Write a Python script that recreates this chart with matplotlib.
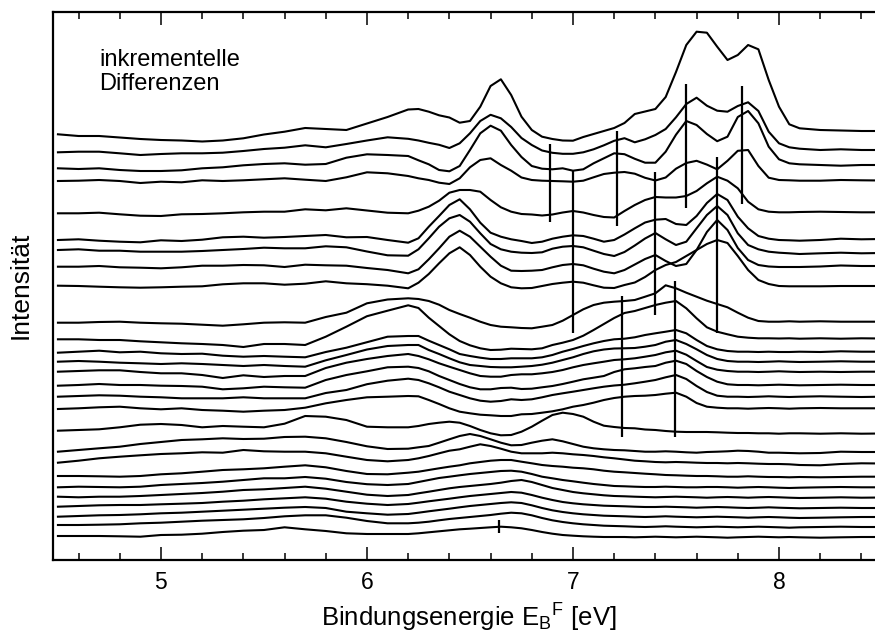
import matplotlib
matplotlib.use("Agg")
import matplotlib.pyplot as plt
from matplotlib.ticker import MultipleLocator

plt.rcParams['font.family'] = ['Liberation Sans', 'DejaVu Sans']
plt.rcParams['mathtext.fontset'] = 'custom'
plt.rcParams['mathtext.rm'] = 'Liberation Sans'
plt.rcParams['mathtext.it'] = 'Liberation Sans:italic'

# binding energy grid (eV), finer where the peaks are
energy = [4.5, 4.6, 4.7, 4.8, 4.9, 5.0, 5.1, 5.2, 5.3, 5.4, 5.5, 5.6, 5.7, 5.8, 5.9,
          6.0, 6.1, 6.2, 6.25, 6.3, 6.35, 6.4, 6.45, 6.5, 6.55, 6.6, 6.65, 6.7, 6.75,
          6.8, 6.85, 6.9, 6.95, 7.0, 7.05, 7.1, 7.15, 7.2, 7.25, 7.3, 7.35, 7.4, 7.45,
          7.5, 7.55, 7.6, 7.65, 7.7, 7.75, 7.8, 7.85, 7.9, 7.95, 8.0, 8.05, 8.1, 8.2,
          8.3, 8.4, 8.5]

# incremental difference spectra, already offset, top trace first (arb. units)
spectra = [
    [425.7, 424, 424, 422.5, 421, 420, 419.5, 418.5, 419.5, 421.7, 425.5, 428.3, 432, 431, 430, 436.5, 443, 450.5, 451, 448.3, 444.7, 442.5, 437.3, 439, 453.3, 474, 480.7, 465, 443.3, 430, 423.3, 421, 419.5, 419.3, 423, 426, 429, 432, 437, 446, 448.5, 451, 463, 488, 515, 528.3, 527.3, 513.3, 500, 505, 515, 510.7, 480, 453.3, 435.7, 431.7, 430, 429.5, 429, 429],
    [407.7, 408.3, 408.3, 406.7, 405, 406, 406.7, 406.7, 407.3, 409, 411, 412.3, 414.7, 412.7, 416, 419.5, 422.7, 421.2, 419.5, 417.2, 415.2, 412, 416.7, 426.7, 439, 445.2, 441.7, 433, 422, 415, 409.5, 407.2, 406.2, 406.2, 407.7, 410.7, 414.7, 419.2, 421.8, 417.7, 420.7, 425, 431, 442.7, 456, 462.3, 454.3, 449.3, 448.3, 454, 457.7, 449, 428.3, 416.7, 412.7, 411.3, 410, 410.7, 410, 410],
    [391.7, 391, 391.7, 390, 389, 389, 389.7, 391.7, 392.7, 394.7, 396, 396.7, 395.3, 396, 402.3, 405.7, 405, 404, 399.7, 395.7, 390, 388.7, 394, 410, 426.7, 434.3, 429.3, 415, 403, 394, 391.3, 390.7, 391.7, 389.3, 390.7, 396.7, 401.7, 406.7, 405.8, 401.2, 397.3, 397.3, 408.3, 425.3, 439, 435, 426, 418.8, 423.3, 443, 449, 436.7, 413.3, 400.7, 396.7, 395.7, 395, 394.3, 395, 395],
    [379, 379.3, 380, 379, 377, 378.3, 377.7, 379.7, 379, 379.7, 380.7, 381.7, 380.3, 379, 382.7, 387.7, 386.7, 384, 381.7, 380, 377.3, 376, 381.7, 392.7, 400, 401.7, 395, 389.3, 382.5, 380, 379.3, 379, 378.7, 378.3, 379.3, 382.7, 386, 387.3, 388, 386.3, 382.2, 379.5, 382.5, 391.3, 397, 399.2, 395.4, 390.7, 399.2, 409.2, 410, 394, 382.3, 380, 379.7, 379.3, 379.3, 380, 379.7, 379.5],
    [346.7, 346.7, 347.3, 345.7, 344.3, 344, 345.7, 346, 346.7, 347.7, 348.3, 348.3, 350.7, 349.7, 351.7, 349.5, 347.3, 346.7, 349.3, 353.3, 359.3, 367.3, 370, 370, 368.3, 360, 352.7, 348.3, 346, 345.5, 344.5, 345.5, 347.5, 349, 347.5, 345, 343, 342.5, 349, 355, 360, 363, 362.5, 362.5, 364, 369, 376.7, 383.3, 379.3, 371.7, 358.3, 350.7, 348.3, 347.7, 347.7, 348, 348.3, 348, 347.7, 347.7],
    [320, 320.7, 319.3, 318.3, 317.7, 319.7, 319, 320.3, 322.7, 323.3, 322.3, 323, 324, 325, 322.7, 323, 320, 317.3, 321.7, 333.3, 344, 355, 360.7, 350.7, 337.3, 327.3, 323.3, 320.7, 319, 317, 318.3, 321.3, 323.3, 324.7, 324, 321.3, 318.3, 320, 325.5, 331.7, 337.5, 340.3, 341, 336, 335, 344, 357, 366, 360, 343.3, 331.7, 324, 321.3, 320, 319.7, 319.3, 320, 321.3, 320.7, 321],
    [310, 310.7, 309.3, 309.3, 308.3, 308.3, 308.3, 309, 310, 311, 312.3, 311.7, 311.7, 313.7, 312.7, 308.5, 304.7, 304.3, 310.7, 321.7, 333.3, 341.7, 345, 338.3, 326.7, 316, 310.7, 308.3, 307.3, 307, 307.7, 311.3, 313.3, 314, 312.7, 309.3, 306, 304, 308, 314.5, 321.5, 327, 320.7, 315, 318.3, 331.7, 345, 354, 345, 326.7, 315, 310.7, 308.3, 307.3, 306.7, 306, 306.7, 307.3, 306.7, 307],
    [293.3, 293.3, 294, 292.7, 292.3, 291.7, 292.7, 294.3, 294.3, 295, 294.7, 293, 295.3, 294.7, 294.3, 292, 290, 286.7, 290.7, 300.7, 311.7, 323.3, 329.3, 323.3, 313.3, 303.3, 294.3, 289.3, 289, 289.3, 290, 292.7, 295, 296, 294.7, 291.3, 288.3, 286.7, 290, 295.5, 301, 305, 299, 294, 296, 310, 328, 340, 330, 312, 300, 295, 293.5, 293, 293, 293, 293.5, 294.5, 294, 294],
    [274.3, 274, 273.3, 272.7, 272.3, 272.7, 273.3, 273.7, 275.7, 276.7, 276.7, 275.3, 276.3, 278.7, 276.7, 275.8, 274.3, 271.7, 277.3, 286, 296.7, 306.7, 312.7, 305, 293.3, 283.3, 276.7, 272.7, 271.7, 272, 274, 276, 277.3, 278.3, 277.3, 274.7, 272.3, 272, 275, 277.5, 283, 290, 295, 298, 304, 310, 316, 320, 317, 304, 290, 280, 276, 274, 273.7, 273.7, 273.7, 274, 274, 274],
    [237.3, 237.3, 238, 238.3, 237.3, 236.7, 236.3, 235.3, 234.3, 235.7, 237.3, 237.7, 237.3, 243, 247.3, 256.7, 260.5, 261.7, 261, 259, 255.3, 250, 246, 242.3, 238.3, 235, 233.3, 232.7, 232, 231.7, 233.3, 235, 239.3, 245, 250.7, 255, 257.3, 258.3, 259, 260, 263.3, 266.7, 274.7, 271.7, 267.3, 263.3, 259.3, 256, 252.7, 247.3, 242.3, 239, 238.3, 238.3, 238.7, 238.3, 238.7, 238.3, 238.3, 238.3],
    [220.7, 220.7, 220, 220, 218.7, 217.7, 216.7, 216, 215, 213, 216, 216, 215, 223.3, 233.3, 243.8, 249.3, 254.7, 252, 242.3, 234, 225.7, 219, 214.7, 211.7, 210, 210.3, 211.3, 211, 210.7, 211.7, 215, 217.3, 220, 224.3, 230, 236, 242, 247, 249, 252, 255, 257.3, 259, 251.7, 241.7, 232.7, 228.3, 225.7, 223.3, 222.3, 221.7, 221.7, 221.5, 221.7, 221.3, 221.7, 221.3, 221.7, 221.5],
    [207.3, 208.3, 209.3, 207.7, 208.3, 206.7, 206, 206.3, 204.3, 203.3, 204, 203.3, 202.7, 208, 212.3, 217.8, 223.3, 224, 224, 219.3, 215, 210.7, 206, 204, 202.3, 201, 201, 201.7, 201.7, 201.7, 202.7, 205, 208.3, 211, 214, 216.7, 219, 220.7, 221.3, 222.7, 225, 226.7, 228.3, 230, 226.7, 220, 214, 210.7, 209, 208.3, 208.3, 208, 208.3, 208, 208, 208.3, 208, 208.7, 208.3, 208.3],
    [198.3, 199, 198.3, 197.3, 196.7, 196, 196.7, 196, 195, 194, 195, 194, 193.3, 199.7, 205, 210.5, 214, 215, 215, 210, 206, 201.7, 197.7, 195, 194, 193, 192.7, 192.7, 193.3, 194, 195.3, 197.3, 200, 202.7, 206, 208.7, 210.5, 211.5, 211.7, 212, 213.3, 215, 218.3, 220, 216, 210.7, 205, 201, 199, 198.3, 198.3, 198, 198.3, 198.7, 198.3, 198, 198.3, 198.7, 198.3, 198.3],
    [188.3, 189, 189.7, 189.7, 188, 186.7, 186.7, 185, 182, 184.7, 183, 184, 184, 192, 197.3, 201, 204, 206, 204, 200.7, 196.7, 193.3, 190, 186.7, 184, 183.3, 183.3, 185, 185.7, 185.7, 186.7, 188, 190, 192.7, 195, 196.7, 198.3, 200, 200.7, 201.7, 203.3, 205, 207.7, 209.3, 205.3, 199, 193, 190.3, 189, 188.3, 188.3, 188, 188.3, 188.7, 188.3, 188, 188.3, 188, 188.3, 188.3],
    [174.3, 175, 176, 175, 175, 174.3, 174, 173.3, 170.7, 171.7, 173.3, 172.7, 172.3, 180, 185, 188.7, 192.7, 193.3, 192, 188.7, 184, 180, 176, 172.7, 170.7, 170.7, 172, 172.3, 171, 171.3, 172.7, 174, 176, 178.3, 180.7, 182.3, 184, 188, 190.7, 191.7, 193, 194, 197.3, 199.3, 196, 189, 183, 178.3, 175.7, 175, 175, 174.7, 175, 175.3, 175, 174.7, 175, 175.3, 175, 175],
    [163.3, 164, 164.7, 164.3, 163.3, 162.7, 161.7, 161.7, 161.7, 162.7, 161.7, 161.7, 161.7, 167, 170, 175.8, 179.3, 181.3, 180, 176.7, 172.7, 168.3, 165, 161.7, 159.3, 158.3, 159, 160.7, 160, 160.7, 162.7, 165, 166.7, 168.3, 170, 171.7, 173.3, 174.5, 175.3, 176.7, 178.3, 180, 182.7, 185, 181, 174, 168, 164.3, 163.3, 163.3, 163, 163.3, 163.7, 163.3, 163, 163.3, 163.7, 163.3, 163, 163.3],
    [151, 151.7, 152.7, 153.3, 151.7, 150.7, 151.7, 150, 149.3, 148.3, 149.3, 150, 152.3, 156.7, 160, 162.7, 163.3, 164, 163.7, 160, 156, 151.7, 148.3, 146.7, 145.3, 144.7, 144, 144, 145.7, 146, 147.3, 148.7, 150.7, 153.3, 155, 157.3, 160, 162, 163.3, 164, 164.3, 165, 166.3, 167.3, 163.3, 157, 153.3, 152.3, 151.7, 151.7, 151.3, 151.7, 152, 151.7, 151.3, 151.7, 152, 151.7, 151.7, 151.7],
    [129.3, 130, 130.7, 132.7, 135.3, 136, 135, 132.7, 134, 133.3, 132.7, 136.3, 144, 143.3, 140, 133.3, 132.7, 132.7, 134, 136, 137.3, 138.3, 137.3, 134, 130, 126.7, 124.7, 125, 128.3, 133.3, 139.3, 145, 147.3, 146, 143.3, 138.3, 134.3, 133, 132, 131.7, 130.5, 130, 129, 128.3, 128, 128, 128, 127.7, 127.3, 127, 127, 126.7, 126.7, 126.3, 126.7, 126.7, 126.3, 126.7, 126.3, 126.5],
    [108.3, 110, 111.7, 113.3, 116, 118, 120, 120.7, 121.7, 121, 121.3, 123, 123.3, 121.7, 118, 113.7, 111, 111.3, 112.7, 114, 117.3, 120.7, 124, 126, 124, 120.7, 117.3, 114.7, 115, 117.3, 119.3, 120.7, 118.7, 116, 113.3, 111.7, 110.7, 110, 109.7, 109, 108.3, 108.3, 108.7, 108.3, 107.7, 107.3, 108, 108.3, 108.7, 109.3, 109, 108.3, 107.3, 107.3, 107, 106.7, 107, 108.3, 108, 108],
    [97.3, 99.3, 101.7, 103.3, 104.7, 106, 106.7, 107.7, 107.3, 110, 108.7, 108.3, 108.3, 106.7, 103.3, 100, 98.7, 100, 101.7, 104, 106.7, 109.3, 110.7, 113.3, 115.7, 114, 111.3, 108.3, 106.7, 106.7, 106.7, 107.3, 106.7, 105.7, 105, 104, 102.7, 101.7, 100.5, 99.3, 98.7, 98, 97.7, 98, 97.7, 97.3, 97, 97, 96.7, 97, 96.7, 96.3, 96, 96, 95.7, 95, 94.7, 96, 96.7, 96.5],
    [84, 84, 83.7, 83.3, 84, 85.7, 86.7, 88.3, 90, 90.7, 91.7, 93.3, 94.7, 92.7, 89, 86, 85.7, 87.3, 88.3, 90, 91.7, 93.3, 94.7, 96.7, 98, 99.3, 100, 100, 98.3, 96.7, 95, 94, 93.3, 92.3, 91.7, 90.7, 89.3, 88.3, 87.7, 87, 86.3, 85.7, 85, 84.7, 84.3, 84, 84, 83.7, 83.3, 83.3, 83.7, 83.3, 83, 83, 82.7, 83, 82.7, 83, 83.3, 83.3],
    [72.7, 73.3, 73, 72.7, 73.3, 75, 76, 77, 78.3, 80, 81.7, 81.7, 83, 81.3, 78, 75.8, 75, 76, 78, 80, 82, 83.3, 84.7, 86, 87, 88, 89, 89.3, 88.3, 86, 83.3, 81.7, 80, 78.7, 77.3, 76, 75, 74, 73.7, 73.3, 73, 73, 73.3, 73, 72.7, 72.7, 73, 73, 72.7, 72.3, 72.7, 73, 72.7, 72.3, 72, 72.3, 72.7, 73, 72.7, 72.7],
    [63.3, 62.7, 63.3, 63.3, 64, 65, 66, 67, 68.3, 70, 70.7, 72, 73.3, 71.3, 68.3, 65.3, 64, 65, 66.7, 68.3, 70, 71.7, 73, 74, 75, 76, 77.3, 79, 80, 78, 75, 72, 70, 68, 66.7, 65.7, 64.7, 64, 63.7, 63.3, 63, 62.7, 63, 63.3, 63, 62.7, 62.3, 62.7, 63, 62.7, 62.3, 62.7, 63, 62.7, 62.3, 62, 62.3, 62.7, 62.3, 62.5],
    [53.3, 54, 54.7, 55, 55, 55.7, 56.3, 57, 58.3, 59.3, 60.7, 61.7, 62.7, 61.3, 58.3, 56.3, 55, 56, 57.3, 58.7, 60, 61.3, 62.7, 64, 65, 66, 67, 68, 67.3, 65, 62.3, 60, 58, 56.7, 55.7, 55, 54.3, 54, 53.7, 53.3, 53, 53, 53.3, 53, 52.7, 52.3, 52.7, 53, 52.7, 52.3, 52, 52.3, 52.7, 52.3, 52, 51.7, 52, 52.3, 52, 52],
    [43.3, 44, 44.7, 45, 45.7, 46.7, 47.3, 48.3, 49.3, 50.3, 51.3, 52.3, 53, 52, 48.3, 46.7, 45.3, 46, 47.3, 48.7, 50, 51.3, 52.7, 54, 55, 56, 57, 57.7, 57, 54.7, 52, 49.7, 48, 46.7, 45.7, 45, 44.3, 44, 43.7, 43.3, 43, 43.3, 43.7, 43.3, 43, 42.7, 43, 43.3, 43, 42.7, 42.3, 42.7, 43, 42.7, 42.3, 42, 42.3, 42.7, 43, 43],
    [35, 35, 35.3, 35.7, 36.7, 37.3, 38.3, 39.3, 40, 40.7, 42, 43.7, 44.7, 44.7, 42.3, 39, 36.7, 36.7, 37.3, 38.3, 39.7, 41, 42, 43, 44, 45, 46.3, 47.3, 46.7, 44.7, 42, 39.7, 38, 36.7, 35.7, 35, 34.3, 34, 33.7, 33.3, 33, 33.3, 33.7, 33.3, 33, 32.7, 33, 33.3, 33, 32.7, 33, 33.3, 33, 32.7, 32.3, 32.7, 33, 33.3, 33, 33],
    [24, 24, 24, 23.7, 23.3, 25, 25.3, 26.3, 28, 29.3, 30, 32.7, 30.7, 29, 26.7, 26, 26, 26, 26.7, 27.7, 28.7, 29.7, 30.7, 31.3, 32, 32.7, 33.3, 32.7, 31.7, 30, 28, 26.3, 25, 24.3, 23.7, 23.3, 23, 23, 23, 22.7, 23, 23.3, 23, 22.7, 23, 23.3, 23, 22.7, 22.3, 22.7, 23, 23.3, 23, 22.7, 23, 22.7, 22.3, 22.7, 23, 23],
]

# peak position markers: energy, lower and upper end
marker_energy = [6.89, 7.0, 7.215, 7.40, 7.55, 7.70, 7.82, 7.24, 7.495, 6.64]
marker_low = [338, 227, 334, 245, 352, 227, 356, 123, 123, 27]
marker_high = [416, 389, 429, 388, 476, 403, 474, 264, 279, 40]

fig = plt.figure(figsize=(8.75, 6.36), dpi=100)
ax = fig.add_axes([53 / 875, 76 / 636, 822 / 875, 548 / 636])

for trace in spectra:
    ax.plot(energy, trace, color='black', lw=1.5, solid_joinstyle='round')
ax.vlines(marker_energy, marker_low, marker_high, color='black', lw=1.6)

ax.set_xlim(4.476, 8.466)
ax.set_ylim(0, 548)
ax.spines['right'].set_visible(False)
for side in ['left', 'top', 'bottom']:
    ax.spines[side].set_linewidth(1.6)

ax.xaxis.set_major_locator(MultipleLocator(1))
ax.xaxis.set_minor_locator(MultipleLocator(0.2))
ax.tick_params(which='both', direction='in', top=True, bottom=True,
               left=False, right=False, labelleft=False, width=1.1)
ax.tick_params(which='major', length=9.5, labelsize=16.5, pad=8)
ax.tick_params(which='minor', length=5)

ax.text(0.056, 0.932, 'inkrementelle\nDifferenzen', transform=ax.transAxes,
        fontsize=17, ha='left', va='top', linespacing=1.1)

fig.text(469 / 875, 9 / 636, r'Bindungsenergie E$_{\mathrm{B}}{}^{\mathrm{F}}$ [eV]',
         fontsize=18.5, ha='center', va='baseline')
fig.text(21 / 875, 1 - 285 / 636, 'Intensität', fontsize=19, rotation=90,
         ha='center', va='center')

fig.savefig('out.png', dpi=100)
